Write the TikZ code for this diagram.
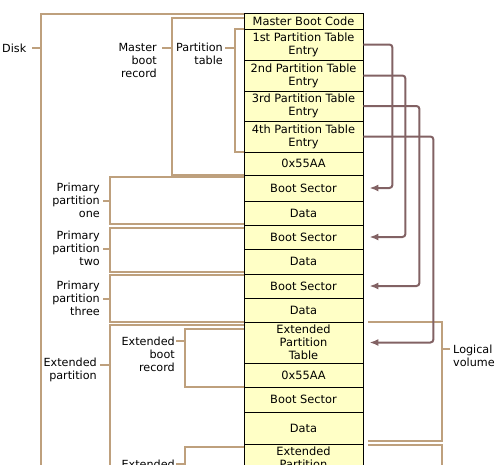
\documentclass[tikz,border=0pt]{standalone}
\usepackage{fontspec}
\setmainfont{DejaVu Sans}
\usepackage{tikz}
\usetikzlibrary{arrows.meta}

\definecolor{cellfill}{RGB}{255,255,198}
\definecolor{bracecol}{RGB}{190,160,125}
\definecolor{ptrcol}{RGB}{130,98,100}

\tikzset{
  cell/.style={draw, line width=0.8pt, fill=cellfill, minimum width=119pt, inner sep=0pt, align=center, font=\fontsize{11.4}{13}\selectfont},
  brace/.style={draw=bracecol, line width=2pt},
  ptr/.style={draw=ptrcol, line width=2pt, rounded corners=3pt, -{Latex[length=9pt,width=7pt]}, shorten >=6pt},
  lbl/.style={inner sep=0pt, align=right, font=\fontsize{11.2}{13}\selectfont}
}

\begin{document}
\begin{tikzpicture}[x=1pt,y=-1pt]
\clip (0,0) rectangle (495,464);

\node[cell, minimum height=16pt] (mbc) at (303.5,21) {Master Boot Code};
\node[cell, minimum height=31pt] (pte1) at (303.5,44.5) {1st Partition Table\\Entry};
\node[cell, minimum height=31pt] (pte2) at (303.5,75.5) {2nd Partition Table\\Entry};
\node[cell, minimum height=30pt] (pte3) at (303.5,106) {3rd Partition Table\\Entry};
\node[cell, minimum height=31pt] (pte4) at (303.5,136.5) {4th Partition Table\\Entry};
\node[cell, minimum height=23pt] (sig1) at (303.5,163.5) {0x55AA};
\node[cell, minimum height=26pt] (bs1) at (303.5,188) {Boot Sector};
\node[cell, minimum height=24pt] (d1) at (303.5,213) {Data};
\node[cell, minimum height=24pt] (bs2) at (303.5,237) {Boot Sector};
\node[cell, minimum height=25pt] (d2) at (303.5,261.5) {Data};
\node[cell, minimum height=24pt] (bs3) at (303.5,286) {Boot Sector};
\node[cell, minimum height=24pt] (d3) at (303.5,310) {Data};
\node[cell, minimum height=41pt] (ept1) at (303.5,342.5) {Extended\\Partition\\Table};
\node[cell, minimum height=24pt] (sig2) at (303.5,375) {0x55AA};
\node[cell, minimum height=25pt] (bs4) at (303.5,399.5) {Boot Sector};
\node[cell, minimum height=32pt] (d4) at (303.5,428) {Data};
\node[cell, minimum height=41pt] (ept2) at (303.5,464.5) {Extended\\Partition\\Table};

\node[lbl, anchor=west] (disk) at (2,48) {Disk};
\node[lbl, anchor=north east] (mbr) at (157,43) {Master\\boot\\record};
\node[lbl, anchor=north east] (ptab) at (223,43) {Partition\\table};
\node[lbl, anchor=north east] (pp1) at (100,183) {Primary\\partition\\one};
\node[lbl, anchor=north east] (pp2) at (100,231) {Primary\\partition\\two};
\node[lbl, anchor=north east] (pp3) at (100,281) {Primary\\partition\\three};
\node[lbl, anchor=north east] (ext) at (97,358) {Extended\\partition};
\node[lbl, anchor=north east] (ebr1) at (175,337) {Extended\\boot\\record};
\node[lbl, anchor=north east] (ebr2) at (175,460) {Extended\\boot\\record};
\node[lbl, anchor=north west, align=left] (lv) at (453,345) {Logical\\volume};

\draw[brace] ([yshift=-1pt]mbc.north west) -- ++(-203,0) -- ++(0,460);
\draw[brace] ([yshift=-5pt]mbc.north west) -- ++(-72,0) |- (sig1.south west);
\draw[brace] (pte1.north west) -- ++(-9,0) |- (pte4.south west);
\draw[brace] ([yshift=-2pt]bs1.north west) -- ++(-134,0) |- ([yshift=1pt]d1.south west);
\draw[brace] ([yshift=-3pt]bs2.north west) -- ++(-134,0) |- ([yshift=2pt]d2.south west);
\draw[brace] ([yshift=-1pt]bs3.north west) -- ++(-134,0) |- (d3.south west);
\draw[brace] ([yshift=-3pt]ept1.north west) -- ++(-134,0) -- ++(0,150);
\draw[brace] ([yshift=-7pt]ept1.north west) -- ++(-59,0) |- (sig2.south west);
\draw[brace] ([yshift=-3pt]ept2.north west) -- ++(-59,0) -- ++(0,30);
\draw[brace] ([xshift=5pt]ept1.north east) -- ++(74,0) |- ([xshift=5pt,yshift=3pt]d4.south east);
\draw[brace] ([xshift=5pt,yshift=-1pt]ept2.north east) -- ++(74,0) -- ++(0,30);

\draw[brace] ([xshift=6pt]disk.east) -- ++(10,0);
\draw[brace] ([shift={(5pt,-5pt)}]mbr.north east) -- ++(10,0);
\draw[brace] ([shift={(2pt,-5pt)}]ptab.north east) -- ++(10,0);
\draw[brace] ([xshift=3pt]pp1.east) -- ++(7,0);
\draw[brace] ([xshift=3pt]pp2.east) -- ++(7,0);
\draw[brace] ([xshift=3pt]pp3.east) -- ++(7,0);
\draw[brace] ([shift={(3pt,-7pt)}]ext.north east) -- ++(10,0);
\draw[brace] ([shift={(1pt,-4pt)}]ebr1.north east) -- ++(9,0);
\draw[brace] ([shift={(1pt,-4pt)}]ebr2.north east) -- ++(9,0);
\draw[brace] ([shift={(-3pt,-4pt)}]lv.north west) -- ++(-8,0);

\draw[ptr] (pte1.east) -- ++(29,0) |- (bs1.east);
\draw[ptr] (pte2.east) -- ++(42,0) |- (bs2.east);
\draw[ptr] (pte3.east) -- ++(56,0) |- (bs3.east);
\draw[ptr] (pte4.east) -- ++(70,0) |- (ept1.east);

\end{tikzpicture}
\end{document}
